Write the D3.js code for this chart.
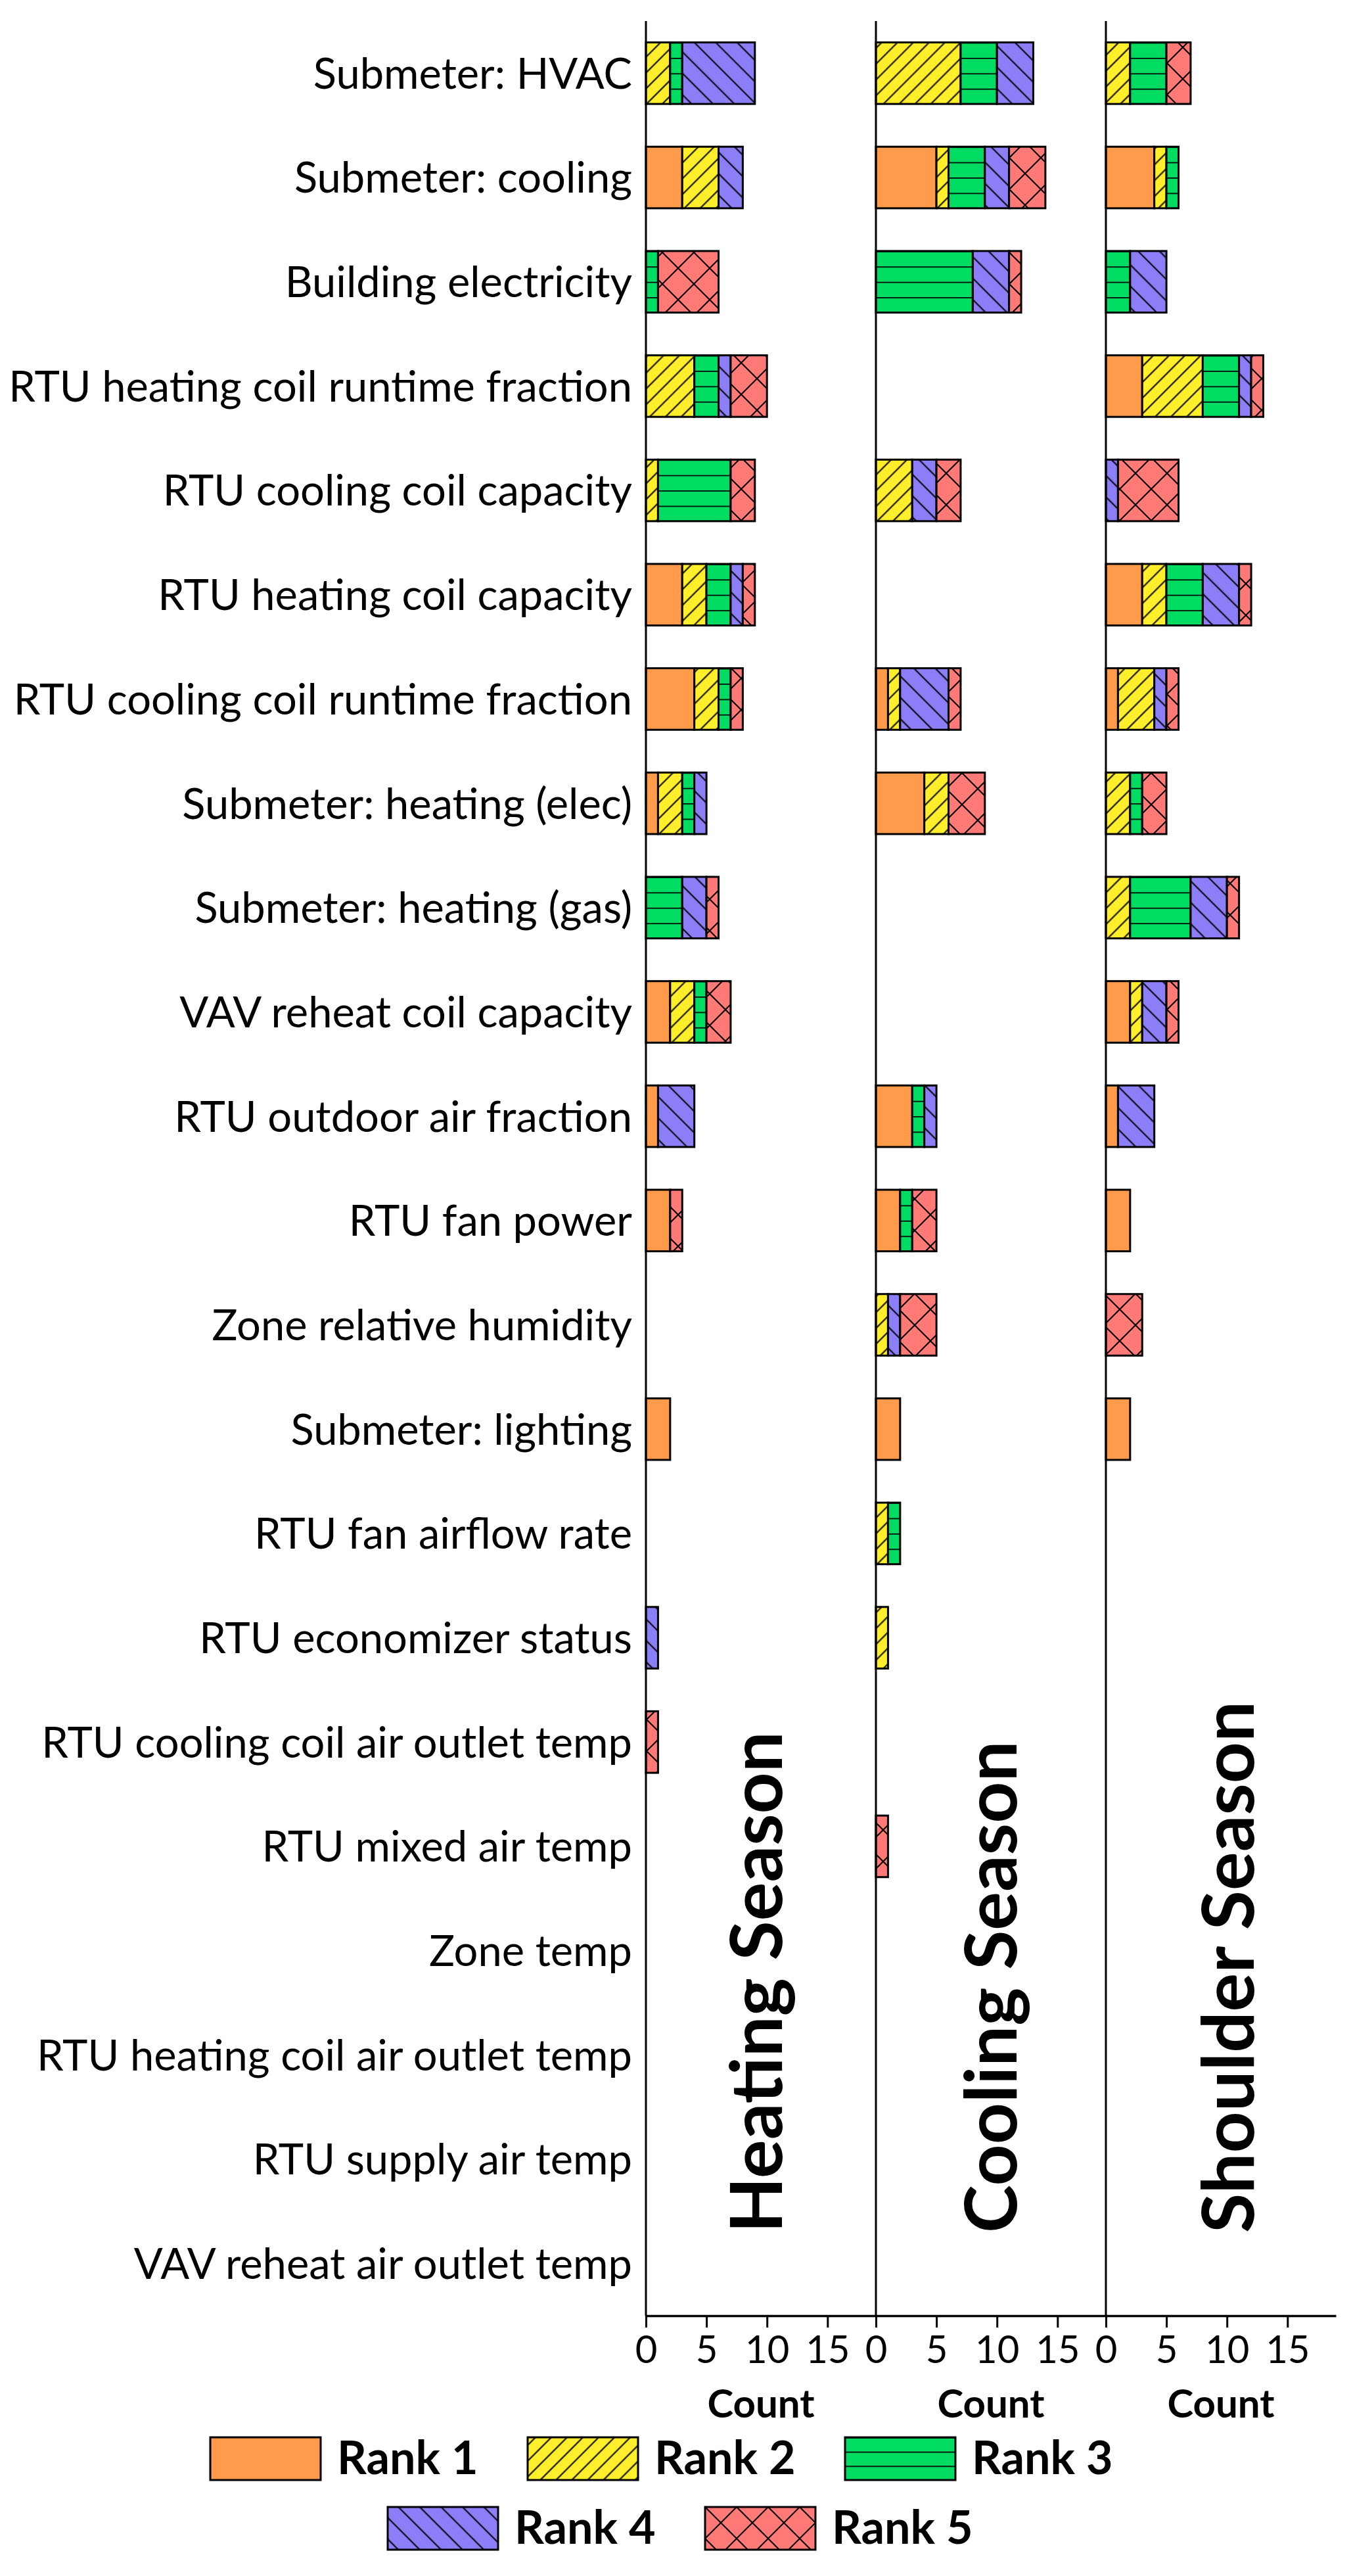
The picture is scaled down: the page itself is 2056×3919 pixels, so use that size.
<!DOCTYPE html>
<html>
<head>
<meta charset="utf-8">
<script src="https://cdn.jsdelivr.net/npm/d3@7"></script>
<style>
  body { margin: 0; background: #fff; }
  text { font-family: Lato, "Open Sans", sans-serif; fill: #000; }
</style>
</head>
<body>
<script>
// categories, top to bottom
var categories = [
    "Submeter: HVAC", "Submeter: cooling", "Building electricity",
    "RTU heating coil runtime fraction", "RTU cooling coil capacity",
    "RTU heating coil capacity", "RTU cooling coil runtime fraction",
    "Submeter: heating (elec)", "Submeter: heating (gas)",
    "VAV reheat coil capacity", "RTU outdoor air fraction", "RTU fan power",
    "Zone relative humidity", "Submeter: lighting", "RTU fan airflow rate",
    "RTU economizer status", "RTU cooling coil air outlet temp",
    "RTU mixed air temp", "Zone temp", "RTU heating coil air outlet temp",
    "RTU supply air temp", "VAV reheat air outlet temp"
];

var ranks = ["Rank 1", "Rank 2", "Rank 3", "Rank 4", "Rank 5"];
var seasons = ["Heating Season", "Cooling Season", "Shoulder Season"];
var xTicks = [0, 5, 10, 15];

// counts per category: [rank1, rank2, rank3, rank4, rank5]
var heatingCounts = [
    [0, 2, 1, 6, 0], [3, 3, 0, 2, 0], [0, 0, 1, 0, 5], [0, 4, 2, 1, 3],
    [0, 1, 6, 0, 2], [3, 2, 2, 1, 1], [4, 2, 1, 0, 1], [1, 2, 1, 1, 0],
    [0, 0, 3, 2, 1], [2, 2, 1, 0, 2], [1, 0, 0, 3, 0], [2, 0, 0, 0, 1],
    [0, 0, 0, 0, 0], [2, 0, 0, 0, 0], [0, 0, 0, 0, 0], [0, 0, 0, 1, 0],
    [0, 0, 0, 0, 1], [0, 0, 0, 0, 0], [0, 0, 0, 0, 0], [0, 0, 0, 0, 0],
    [0, 0, 0, 0, 0], [0, 0, 0, 0, 0]
];
var coolingCounts = [
    [0, 7, 3, 3, 0], [5, 1, 3, 2, 3], [0, 0, 8, 3, 1], [0, 0, 0, 0, 0],
    [0, 3, 0, 2, 2], [0, 0, 0, 0, 0], [1, 1, 0, 4, 1], [4, 2, 0, 0, 3],
    [0, 0, 0, 0, 0], [0, 0, 0, 0, 0], [3, 0, 1, 1, 0], [2, 0, 1, 0, 2],
    [0, 1, 0, 1, 3], [2, 0, 0, 0, 0], [0, 1, 1, 0, 0], [0, 1, 0, 0, 0],
    [0, 0, 0, 0, 0], [0, 0, 0, 0, 1], [0, 0, 0, 0, 0], [0, 0, 0, 0, 0],
    [0, 0, 0, 0, 0], [0, 0, 0, 0, 0]
];
var shoulderCounts = [
    [0, 2, 3, 0, 2], [4, 1, 1, 0, 0], [0, 0, 2, 3, 0], [3, 5, 3, 1, 1],
    [0, 0, 0, 1, 5], [3, 2, 3, 3, 1], [1, 3, 0, 1, 1], [0, 2, 1, 0, 2],
    [0, 2, 5, 3, 1], [2, 1, 0, 2, 1], [1, 0, 0, 3, 0], [2, 0, 0, 0, 0],
    [0, 0, 0, 0, 3], [2, 0, 0, 0, 0], [0, 0, 0, 0, 0], [0, 0, 0, 0, 0],
    [0, 0, 0, 0, 0], [0, 0, 0, 0, 0], [0, 0, 0, 0, 0], [0, 0, 0, 0, 0],
    [0, 0, 0, 0, 0], [0, 0, 0, 0, 0]
];
var seasonCounts = [heatingCounts, coolingCounts, shoulderCounts];

var rankColors = ["#ff9b4b", "#ffee2b", "#00dc62", "#8c7ef6", "#ff7a77"];

var svg = d3.select("body").append("svg")
    .attr("width", 2056)
    .attr("height", 3919);

// hatch patterns
var defs = svg.append("defs");

function lineHatch(id, color, gap, angle) {
    var p = defs.append("pattern")
        .attr("id", id)
        .attr("patternUnits", "userSpaceOnUse")
        .attr("width", 10)
        .attr("height", gap)
        .attr("patternTransform", `rotate(${angle})`);
    p.append("rect").attr("width", 10).attr("height", gap).attr("fill", color);
    p.append("line")
        .attr("x1", 0).attr("x2", 10)
        .attr("y1", gap / 2).attr("y2", gap / 2)
        .attr("stroke", "#000").attr("stroke-width", 2);
}

function stripes(id, color, frac) {
    var p = defs.append("pattern")
        .attr("id", id)
        .attr("patternUnits", "objectBoundingBox")
        .attr("width", 1)
        .attr("height", frac);
    p.append("rect").attr("width", 3000).attr("height", 300).attr("fill", color);
    p.append("line")
        .attr("x1", 0).attr("x2", 3000)
        .attr("y1", 0.5).attr("y2", 0.5)
        .attr("stroke", "#000").attr("stroke-width", 2.5);
}

lineHatch("hatch2", rankColors[1], 17, -45);
lineHatch("hatch4", rankColors[3], 23, 45);
stripes("hatch3", rankColors[2], 0.25);
stripes("hatch3legend", rankColors[2], 1 / 3);

var cross = defs.append("pattern")
    .attr("id", "hatch5")
    .attr("patternUnits", "userSpaceOnUse")
    .attr("width", 48)
    .attr("height", 48);
cross.append("rect").attr("width", 48).attr("height", 48).attr("fill", rankColors[4]);
cross.append("path")
    .attr("d", "M0,0L48,48M48,0L0,48")
    .attr("stroke", "#000").attr("stroke-width", 2);

var fills = [rankColors[0], "url(#hatch2)", "url(#hatch3)", "url(#hatch4)", "url(#hatch5)"];
var legendFills = [rankColors[0], "url(#hatch2)", "url(#hatch3legend)", "url(#hatch4)", "url(#hatch5)"];

// layout
var plotTop = 32;
var plotBottom = 3523;
var panelLeft = 983;
var panelWidth = 350;
var seasonOffsets = [207, 214, 225];

var yScale = d3.scaleBand()
    .domain(categories)
    .range([plotTop, plotBottom])
    .paddingInner(0.41)
    .paddingOuter(0.205);

// category labels
svg.append("g").selectAll("text")
    .data(categories)
    .enter()
    .append("text")
    .attr("x", panelLeft - 21)
    .attr("y", d => yScale(d) + yScale.bandwidth() / 2)
    .attr("dy", "0.36em")
    .attr("text-anchor", "end")
    .style("font-size", "65px")
    .text(d => d);

seasons.forEach(function (season, i) {
    var x0 = panelLeft + i * panelWidth;
    var xScale = d3.scaleLinear().domain([0, 19]).range([x0, x0 + panelWidth]);
    var panel = svg.append("g");

    // stacked segments
    var segments = [];
    seasonCounts[i].forEach(function (row, j) {
        var start = 0;
        row.forEach(function (v, k) {
            if (v > 0) {
                segments.push({ cat: categories[j], rank: k, x0: start, x1: start + v });
            }
            start += v;
        });
    });

    panel.selectAll("rect")
        .data(segments)
        .enter()
        .append("rect")
        .attr("x", d => xScale(d.x0))
        .attr("y", d => yScale(d.cat))
        .attr("width", d => xScale(d.x1) - xScale(d.x0))
        .attr("height", yScale.bandwidth())
        .attr("fill", d => fills[d.rank])
        .attr("stroke", "#000")
        .attr("stroke-width", 3);

    // vertical axis line
    panel.append("line")
        .attr("x1", x0).attr("x2", x0)
        .attr("y1", plotTop).attr("y2", plotBottom)
        .attr("stroke", "#000")
        .attr("stroke-width", 3);

    // bottom axis
    var axis = panel.append("g")
        .attr("transform", `translate(0, ${plotBottom})`)
        .call(d3.axisBottom(xScale).tickValues(xTicks).tickSize(18).tickSizeOuter(0).tickPadding(13));
    axis.select(".domain").attr("stroke-width", 3.5);
    axis.selectAll(".tick line").attr("stroke-width", 3);
    axis.selectAll(".tick text")
        .style("font-family", "Lato, 'Open Sans', sans-serif")
        .style("font-size", "58px");

    // axis title
    panel.append("text")
        .attr("x", x0 + panelWidth / 2)
        .attr("y", 3678)
        .attr("text-anchor", "middle")
        .style("font-size", "60px")
        .style("font-weight", "bold")
        .text("Count");

    // season title, rotated
    panel.append("text")
        .attr("transform", `translate(${x0 + seasonOffsets[i]}, 3397) rotate(-90)`)
        .style("font-size", "110px")
        .style("font-weight", "bold")
        .text(season);
});

// legend
var legendRows = [[0, 1, 2], [3, 4]];
var legendStartX = [320, 590];
var legendTopY = [3708, 3814];

legendRows.forEach(function (row, r) {
    var g = svg.append("g");
    var items = g.selectAll("g")
        .data(row)
        .enter()
        .append("g")
        .attr("transform", (d, k) => `translate(${legendStartX[r] + k * 483}, ${legendTopY[r]})`);
    items.append("rect")
        .attr("width", 168)
        .attr("height", 65)
        .attr("fill", d => legendFills[d])
        .attr("stroke", "#000")
        .attr("stroke-width", 3);
    items.append("text")
        .attr("x", 193)
        .attr("y", 56)
        .style("font-size", "70px")
        .style("font-weight", "bold")
        .text(d => ranks[d]);
});
</script>
</body>
</html>
